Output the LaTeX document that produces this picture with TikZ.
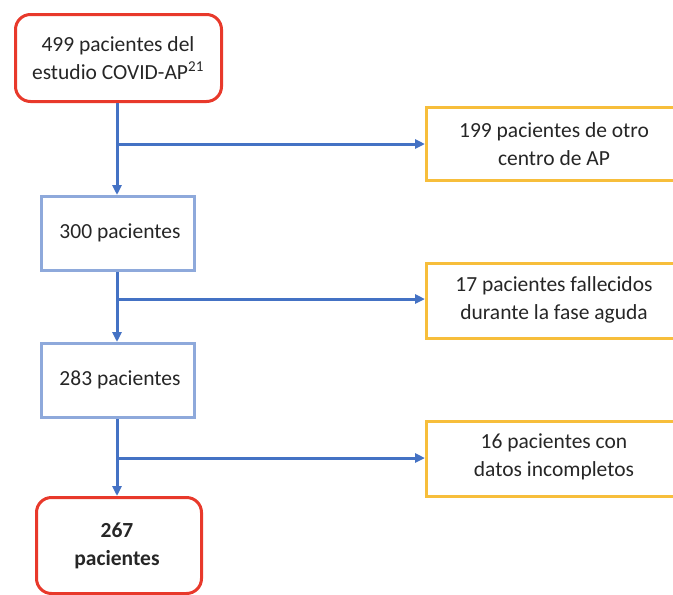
\documentclass[tikz,border=0pt]{standalone}
\usepackage{fontspec}
\setmainfont{Carlito}
\usetikzlibrary{arrows.meta}
\definecolor{cred}{HTML}{E8392B}
\definecolor{cblue}{HTML}{4472C4}
\definecolor{clblue}{HTML}{8EA9DB}
\definecolor{cyel}{HTML}{F7BE3B}
\begin{document}
\begin{tikzpicture}[x=1pt,y=-1pt,
  txt/.style={font=\fontsize{21.5}{27.5}\selectfont, text=black!85, align=center, inner sep=0pt},
  redbox/.style={draw=cred, line width=3pt, rounded corners=15pt},
  bluebox/.style={draw=clblue, line width=3pt},
  yelbox/.style={draw=cyel, line width=3pt},
  conn/.style={draw=cblue, line width=3pt, -{Triangle[length=10pt,width=9pt]}}]
\useasboundingbox (0,0) rectangle (673,595);
\clip (0,0) rectangle (673,595);
% boxes
\node[redbox, minimum width=206pt, minimum height=87pt, anchor=north west] (b1) at (14,13) {};
\node[txt] at (118,58) {499 pacientes del\\estudio COVID-AP\textsuperscript{21}};
\node[bluebox, minimum width=153pt, minimum height=74pt, anchor=north west] (b2) at (40,195) {};
\node[txt] at (120,233) {300 pacientes};
\node[bluebox, minimum width=153pt, minimum height=74pt, anchor=north west] (b3) at (40,342) {};
\node[txt] at (120,380) {283 pacientes};
\node[redbox, minimum width=165pt, minimum height=96pt, anchor=north west] (b4) at (35,496) {};
\node[txt, font=\fontsize{21.5}{28}\selectfont\bfseries] at (117,546) {267\\pacientes};
\node[yelbox, minimum width=260pt, minimum height=73pt, anchor=north west] (y1) at (425,106) {};
\node[txt] at (554,144) {199 pacientes de otro\\centro de AP};
\node[yelbox, minimum width=260pt, minimum height=75pt, anchor=north west] (y2) at (425,262) {};
\node[txt] at (554,300) {17 pacientes fallecidos\\durante la fase aguda};
\node[yelbox, minimum width=260pt, minimum height=75pt, anchor=north west] (y3) at (425,420) {};
\node[txt] at (554,457) {16 pacientes con\\datos incompletos};
% connectors
\coordinate (j1) at (117,144);
\coordinate (j2) at (117,299);
\coordinate (j3) at (117,458);
\draw[conn] (b1.south -| j1) -- (b2.north -| j1);
\draw[conn] (j1) -- (y1.west |- j1);
\draw[conn] (b2.south -| j2) -- (b3.north -| j2);
\draw[conn] (j2) -- (y2.west |- j2);
\draw[conn] (b3.south -| j3) -- (b4.north -| j3);
\draw[conn] (j3) -- (y3.west |- j3);
\end{tikzpicture}
\end{document}
